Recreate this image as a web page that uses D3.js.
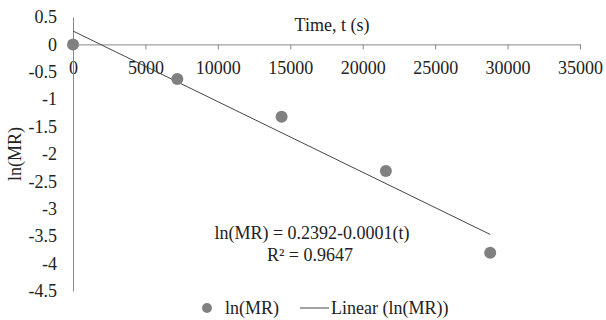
<!DOCTYPE html>
<html>
<head>
<meta charset="utf-8">
<script src="https://cdn.jsdelivr.net/npm/d3@7"></script>
<style>
  body { margin: 0; background: #fff; }
  svg text { font-family: "Liberation Serif", "Times New Roman", serif; fill: #222; }
</style>
</head>
<body>
<figure id="chart" style="margin:0"></figure>
<script>
// data
const times = [0, 7200, 14400, 21600, 28800];
const lnMR = [0, -0.63, -1.32, -2.31, -3.80];
const xTicks = [0, 5000, 10000, 15000, 20000, 25000, 30000, 35000];
const yTicks = [0.5, 0, -0.5, -1, -1.5, -2, -2.5, -3, -3.5, -4, -4.5];

const width = 606, height = 320;
const serif = '"Liberation Serif", "Times New Roman", serif';

const svg = d3.select('#chart')
  .append('svg')
  .attr('width', width)
  .attr('height', height);

const x = d3.scaleLinear().domain([0, 35000]).range([73, 580]);
const y = d3.scaleLinear().domain([0.5, -4.5]).range([17, 291]);

// x axis sits at y = 0
const xAxis = svg.append('g')
  .attr('transform', 'translate(0,' + y(0) + ')')
  .attr('font-family', serif)
  .call(d3.axisBottom(x).tickValues(xTicks).tickSize(5).tickFormat(d3.format('d')));
xAxis.attr('font-family', serif);
xAxis.select('.domain').attr('stroke', '#888');
xAxis.selectAll('.tick line').attr('stroke', '#888');
xAxis.selectAll('.tick text')
  .attr('font-size', 18)
  .attr('y', 17)
  .attr('fill', '#222');

// y axis, no tick marks
const yAxis = svg.append('g')
  .attr('transform', 'translate(' + x(0) + ',0)')
  .call(d3.axisLeft(y).tickValues(yTicks).tickSize(0).tickFormat(d => String(d)));
yAxis.attr('font-family', serif);
yAxis.select('.domain').attr('stroke', '#888');
yAxis.selectAll('.tick text')
  .attr('font-size', 18)
  .attr('x', -16)
  .attr('fill', '#222');

// axis titles
svg.append('text')
  .attr('x', 332).attr('y', 31)
  .attr('text-anchor', 'middle')
  .attr('font-size', 18)
  .text('Time, t (s)');

svg.append('text')
  .attr('transform', 'translate(21,154) rotate(-90)')
  .attr('text-anchor', 'middle')
  .attr('font-size', 18)
  .text('ln(MR)');

// linear fit
const n = times.length;
const mx = d3.mean(times), my = d3.mean(lnMR);
const sxy = d3.sum(times, (t, i) => (t - mx) * (lnMR[i] - my));
const sxx = d3.sum(times, t => (t - mx) * (t - mx));
const slope = sxy / sxx, icpt = my - slope * mx;
const fitX = [times[0], times[n - 1]];

svg.append('path')
  .datum(fitX)
  .attr('fill', 'none')
  .attr('stroke', '#444')
  .attr('stroke-width', 1)
  .attr('d', d3.line().x(d => x(d)).y(d => y(icpt + slope * d)));

// points
svg.selectAll('circle.pt')
  .data(times)
  .enter()
  .append('circle')
  .attr('class', 'pt')
  .attr('cx', d => x(d))
  .attr('cy', (d, i) => y(lnMR[i]))
  .attr('r', 6)
  .attr('fill', '#808080');

// equation
svg.append('text')
  .attr('x', 312).attr('y', 239)
  .attr('text-anchor', 'middle')
  .attr('font-size', 18)
  .text('ln(MR) = 0.2392-0.0001(t)');
svg.append('text')
  .attr('x', 310).attr('y', 261)
  .attr('text-anchor', 'middle')
  .attr('font-size', 18)
  .text('R² = 0.9647');

// legend
const leg = svg.append('g');
leg.append('circle').attr('cx', 207).attr('cy', 308).attr('r', 5).attr('fill', '#808080');
leg.append('text').attr('x', 225).attr('y', 314).attr('font-size', 18).text('ln(MR)');
leg.append('line').attr('x1', 300).attr('x2', 329).attr('y1', 308).attr('y2', 308)
  .attr('stroke', '#444').attr('stroke-width', 1);
leg.append('text').attr('x', 331).attr('y', 314).attr('font-size', 18).text('Linear (ln(MR))');
</script>
</body>
</html>
